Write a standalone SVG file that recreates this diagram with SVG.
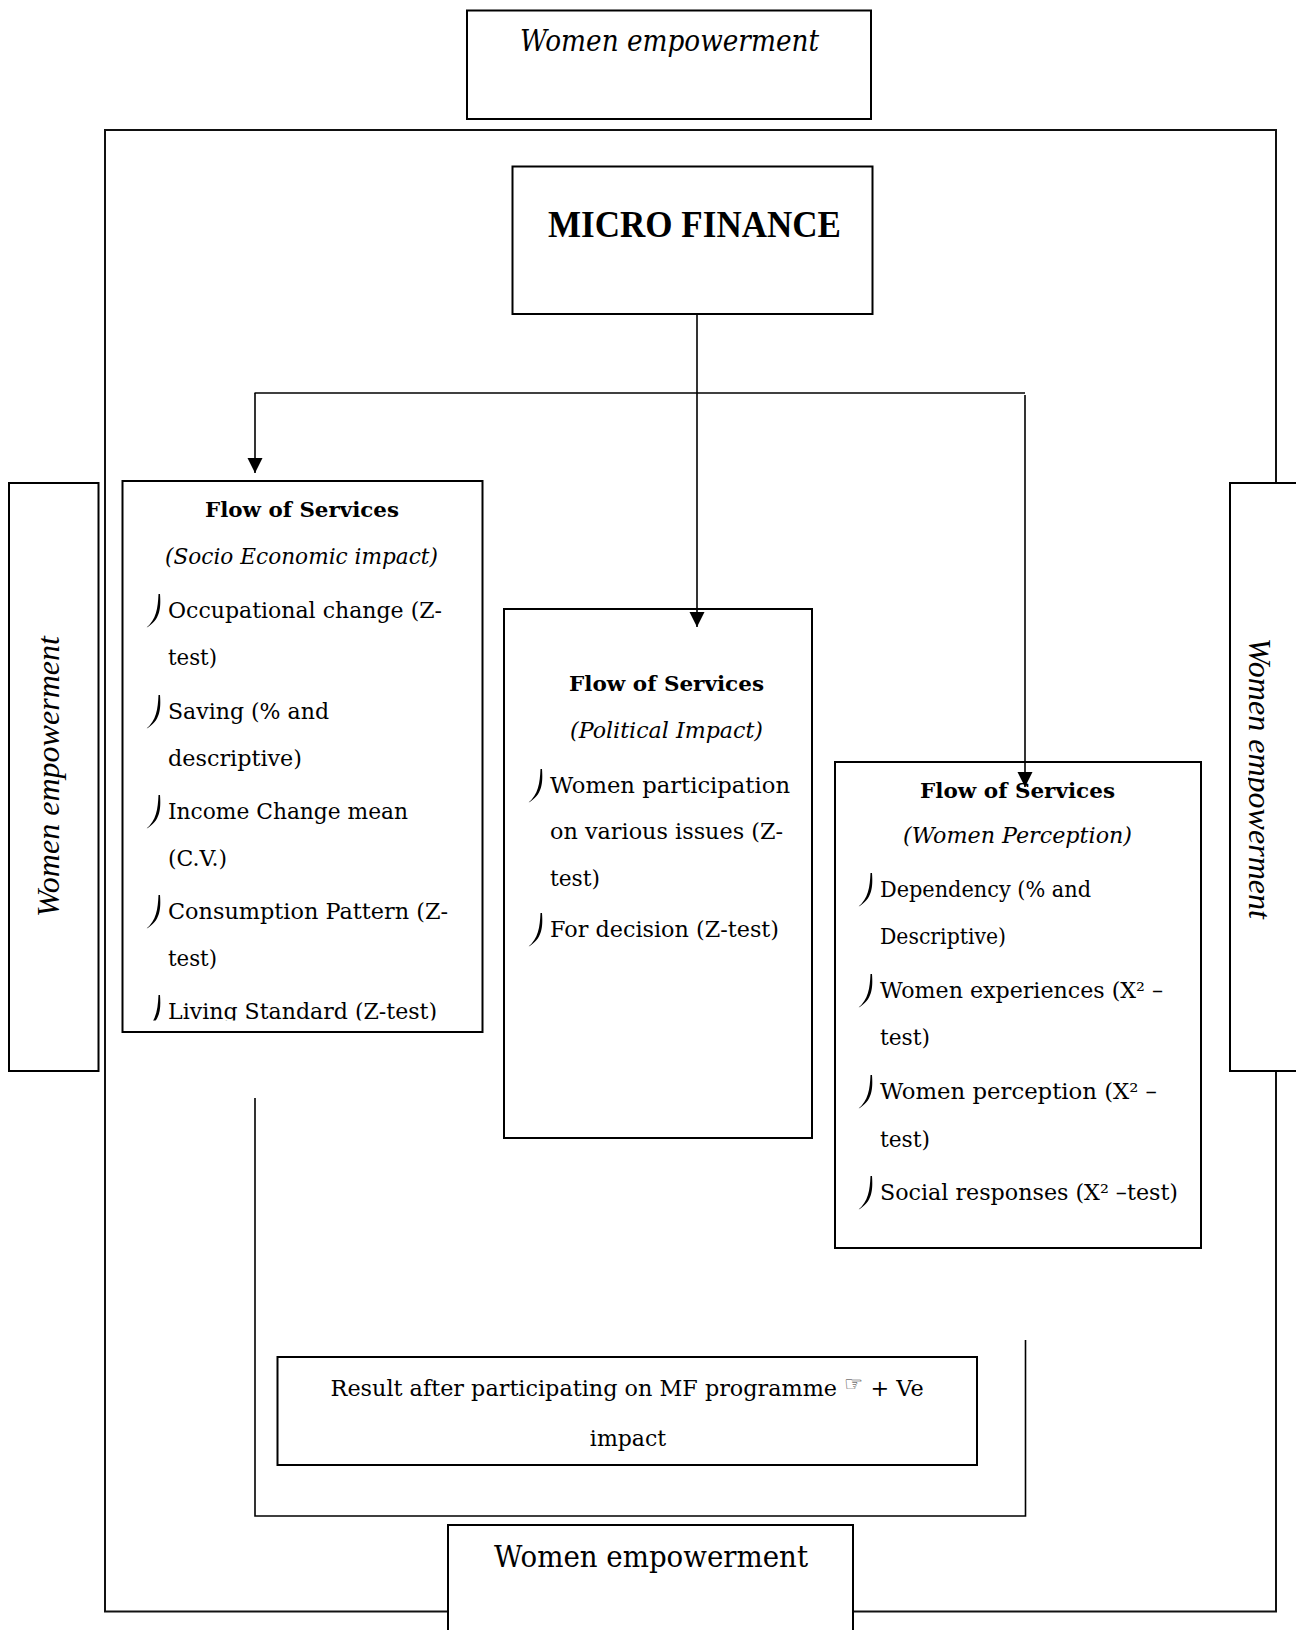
<svg xmlns="http://www.w3.org/2000/svg" width="1296" height="1630" viewBox="0 0 1296 1630">
<defs>
<style>
.box{fill:#fff;stroke:#000;stroke-width:2}
.frame{fill:none;stroke:#111;stroke-width:2}
.conn{fill:none;stroke:#000;stroke-width:1.6}
.t{font-family:"DejaVu Serif","Liberation Serif",serif;font-size:22px;fill:#000}
.b{font-weight:bold;font-size:21px}
.i{font-style:italic}
.big{font-size:30px}
.side{font-family:"Liberation Serif","Times New Roman",serif;font-style:italic;font-size:32px;fill:#000}
.blt{fill:#000}
</style>
<marker id="arr" markerUnits="userSpaceOnUse" markerWidth="16" markerHeight="16" refX="15" refY="7.5" orient="auto">
<path d="M0,0 L15,7.5 L0,15 Z" fill="#000"/>
</marker>
<path id="bullet" d="M0,-24 C1,-10 0.5,2 -14,10 C-3.5,1.5 -2.2,-10 -1.5,-24 Z"/>
<clipPath id="clipLiving"><rect x="110" y="470" width="380" height="550.5"/></clipPath>
<clipPath id="clipRightText"><rect x="1248" y="480" width="60" height="600"/></clipPath>
</defs>

<rect class="frame" x="105" y="130" width="1171" height="1481.5"/>

<g id="node-top-empowerment">
<rect class="box" x="467" y="10.5" width="404" height="108.5"/>
<text class="t i big" x="520" y="51" textLength="299" lengthAdjust="spacingAndGlyphs">Women empowerment</text>
</g>

<g id="node-micro-finance">
<rect class="box" x="512.5" y="166.5" width="360" height="147.5"/>
<text x="548" y="237" font-family="'Liberation Serif','Times New Roman',serif" font-size="38" font-weight="bold" fill="#000" textLength="293" lengthAdjust="spacingAndGlyphs">MICRO FINANCE</text>
</g>

<g id="node-left-empowerment">
<rect class="box" x="9" y="483" width="89.5" height="588"/>
<text class="side" transform="translate(58.5,917) rotate(-90)" x="0" y="0" textLength="281" lengthAdjust="spacingAndGlyphs">Women empowerment</text>
</g>

<g id="node-right-empowerment">
<rect class="box" x="1230" y="483" width="90" height="588"/>
<g clip-path="url(#clipRightText)">
<text class="side" transform="translate(1248.5,638) rotate(90)" x="0" y="0" textLength="281" lengthAdjust="spacingAndGlyphs">Women empowerment</text>
</g>
</g>

<g id="node-socio-economic">
<rect class="box" x="122.5" y="481" width="360" height="551"/>
<text class="t b" x="205" y="517" textLength="194" lengthAdjust="spacingAndGlyphs">Flow of Services</text>
<text class="t i" x="165" y="564" textLength="273" lengthAdjust="spacingAndGlyphs">(Socio Economic impact)</text>
<use href="#bullet" class="blt" x="160" y="618"/>
<text class="t" x="168" y="618" textLength="274" lengthAdjust="spacingAndGlyphs">Occupational change (Z-</text>
<text class="t" x="168" y="665" textLength="49" lengthAdjust="spacingAndGlyphs">test)</text>
<use href="#bullet" class="blt" x="160" y="719"/>
<text class="t" x="168" y="719" textLength="161" lengthAdjust="spacingAndGlyphs">Saving (% and</text>
<text class="t" x="168" y="766" textLength="134" lengthAdjust="spacingAndGlyphs">descriptive)</text>
<use href="#bullet" class="blt" x="160" y="819"/>
<text class="t" x="168" y="819" textLength="240" lengthAdjust="spacingAndGlyphs">Income Change mean</text>
<text class="t" x="168" y="866" textLength="59" lengthAdjust="spacingAndGlyphs">(C.V.)</text>
<use href="#bullet" class="blt" x="160" y="919"/>
<text class="t" x="168" y="919" textLength="280" lengthAdjust="spacingAndGlyphs">Consumption Pattern (Z-</text>
<text class="t" x="168" y="966" textLength="49" lengthAdjust="spacingAndGlyphs">test)</text>
<g clip-path="url(#clipLiving)">
<use href="#bullet" class="blt" x="160" y="1019"/>
<text class="t" x="168" y="1019" textLength="269" lengthAdjust="spacingAndGlyphs">Living Standard (Z-test)</text>
</g>
</g>

<g id="node-political">
<rect class="box" x="504" y="609" width="308" height="529"/>
<text class="t b" x="569" y="691" textLength="195" lengthAdjust="spacingAndGlyphs">Flow of Services</text>
<text class="t i" x="570" y="738" textLength="193" lengthAdjust="spacingAndGlyphs">(Political Impact)</text>
<use href="#bullet" class="blt" x="542" y="793"/>
<text class="t" x="550" y="793" textLength="240" lengthAdjust="spacingAndGlyphs">Women participation</text>
<text class="t" x="550" y="839" textLength="233" lengthAdjust="spacingAndGlyphs">on various issues (Z-</text>
<text class="t" x="550" y="886" textLength="50" lengthAdjust="spacingAndGlyphs">test)</text>
<use href="#bullet" class="blt" x="542" y="937"/>
<text class="t" x="550" y="937" textLength="229" lengthAdjust="spacingAndGlyphs">For decision (Z-test)</text>
</g>

<g id="node-women-perception">
<rect class="box" x="835" y="762" width="366" height="486"/>
<text class="t b" x="920" y="798" textLength="195" lengthAdjust="spacingAndGlyphs">Flow of Services</text>
<text class="t i" x="903" y="843" textLength="229" lengthAdjust="spacingAndGlyphs">(Women Perception)</text>
<use href="#bullet" class="blt" x="872" y="897"/>
<text class="t" x="880" y="897" textLength="211" lengthAdjust="spacingAndGlyphs">Dependency (% and</text>
<text class="t" x="880" y="944" textLength="126" lengthAdjust="spacingAndGlyphs">Descriptive)</text>
<use href="#bullet" class="blt" x="872" y="998"/>
<text class="t" x="880" y="998" textLength="283" lengthAdjust="spacingAndGlyphs">Women experiences (X² –</text>
<text class="t" x="880" y="1045" textLength="50" lengthAdjust="spacingAndGlyphs">test)</text>
<use href="#bullet" class="blt" x="872" y="1099"/>
<text class="t" x="880" y="1099" textLength="277" lengthAdjust="spacingAndGlyphs">Women perception (X² –</text>
<text class="t" x="880" y="1147" textLength="50" lengthAdjust="spacingAndGlyphs">test)</text>
<use href="#bullet" class="blt" x="872" y="1200"/>
<text class="t" x="880" y="1200" textLength="298" lengthAdjust="spacingAndGlyphs">Social responses (X² –test)</text>
</g>

<g id="node-result">
<rect class="box" x="277.5" y="1357" width="699.5" height="108"/>
<text class="t" x="330.6" y="1396" textLength="593" lengthAdjust="spacingAndGlyphs">Result after participating on MF programme <tspan style="font-size:21px;fill:#333" dy="-5">☞</tspan><tspan dy="5"> + Ve</tspan></text>
<text class="t" x="628" y="1446" text-anchor="middle">impact</text>
</g>

<g id="node-bottom-empowerment">
<rect class="box" x="448" y="1525" width="405" height="120"/>
<text class="t big" x="494" y="1567" textLength="314" lengthAdjust="spacingAndGlyphs">Women empowerment</text>
</g>

<g id="connectors">
<line class="conn" x1="697" y1="314" x2="697" y2="627" marker-end="url(#arr)"/>
<line class="conn" x1="254.5" y1="393" x2="1025" y2="393"/>
<line class="conn" x1="255" y1="393" x2="255" y2="473" marker-end="url(#arr)"/>
<line class="conn" x1="1025" y1="395" x2="1025" y2="787" marker-end="url(#arr)"/>
<polyline class="conn" points="255,1098 255,1516 1025.5,1516 1025.5,1340"/>
</g>
</svg>
